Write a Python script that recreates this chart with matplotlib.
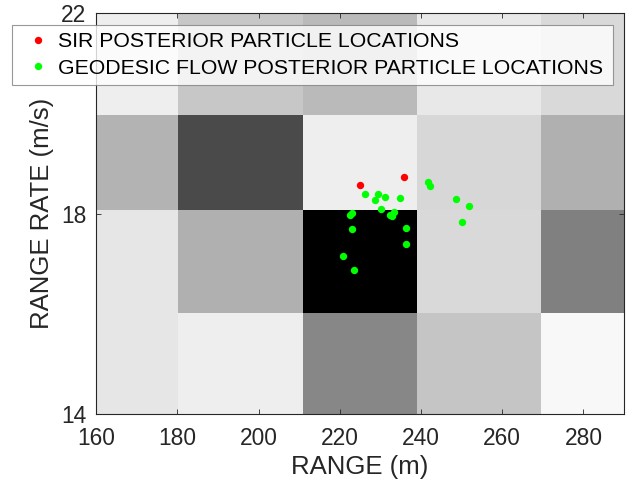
import numpy as np
import matplotlib
matplotlib.use("Agg")
import matplotlib.pyplot as plt

# grid cell edges (range, range rate)
x_edges = [150, 180.1, 210.8, 238.9, 269.6, 300]
y_edges = [12, 16.03, 18.08, 19.97, 24]

# gray level of each cell, bottom row first (0 = black, 1 = white)
cell_gray = [
    [0.90, 0.93, 0.53, 0.77, 0.97],
    [0.90, 0.69, 0.00, 0.85, 0.50],
    [0.70, 0.29, 0.93, 0.84, 0.69],
    [0.93, 0.78, 0.73, 0.91, 0.85],
]

# SIR posterior particles
sir_x = [224.9, 235.9]
sir_y = [18.58, 18.73]

# geodesic flow posterior particles
geo_x = [226.2, 229.4, 228.6, 231.0, 234.7, 230.1, 223.0, 222.4, 232.3, 232.9,
         233.4, 222.9, 236.2, 236.4, 220.7, 223.6, 241.8, 242.3, 248.7, 251.7, 250.0]
geo_y = [18.39, 18.40, 18.28, 18.34, 18.32, 18.09, 18.01, 17.97, 17.97, 17.95,
         18.03, 17.69, 17.72, 17.40, 17.16, 16.87, 18.64, 18.55, 18.30, 18.15, 17.83]

plt.rcParams['font.family'] = ['Liberation Sans', 'DejaVu Sans']
txt = '#262626'

fig = plt.figure(figsize=(6.27, 4.87), dpi=100)
ax = fig.add_axes([96.3 / 627, 1 - 414.3 / 487, (624 - 96.3) / 627, (414.3 - 13.3) / 487])

ax.pcolormesh(x_edges, y_edges, np.array(cell_gray), cmap='gray', vmin=0, vmax=1,
              shading='flat')

ax.plot(sir_x, sir_y, 'o', color=(1, 0, 0), markersize=5.3, markeredgewidth=0,
        label='SIR POSTERIOR PARTICLE LOCATIONS')
ax.plot(geo_x, geo_y, 'o', color=(0, 1, 0), markersize=5.3, markeredgewidth=0,
        label='GEODESIC FLOW POSTERIOR PARTICLE LOCATIONS')

ax.set_xlim(160, 290)
ax.set_ylim(14, 22)
ax.set_xticks([160, 180, 200, 220, 240, 260, 280])
ax.set_yticks([14, 18, 22])
ax.tick_params(direction='in', length=3.5, width=0.6, colors=txt, labelsize=16.4,
               top=True, right=True)
ax.tick_params(axis='x', pad=9)
ax.tick_params(axis='y', pad=7)
for s in ax.spines.values():
    s.set_color(txt)
    s.set_linewidth(0.8)

ax.set_xlabel('RANGE (m)', fontsize=18.5, color=txt, labelpad=4)
ax.set_ylabel('RANGE RATE (m/s)', fontsize=18.5, color=txt, labelpad=5)

top = 1 - 24.7 / 487
leg = fig.legend(loc='upper left', bbox_to_anchor=(11.7 / 627, top - 0.01, (612.7 - 11.7) / 627, 0.01),
                 mode='expand', fontsize=15.3, frameon=True, fancybox=False,
                 handlelength=1.75, handletextpad=0.05, borderpad=0.36, labelspacing=0.34,
                 borderaxespad=0)
leg.get_frame().set_edgecolor('#7f7f7f')
leg.get_frame().set_linewidth(0.8)

fig.savefig('out.png', dpi=100)
